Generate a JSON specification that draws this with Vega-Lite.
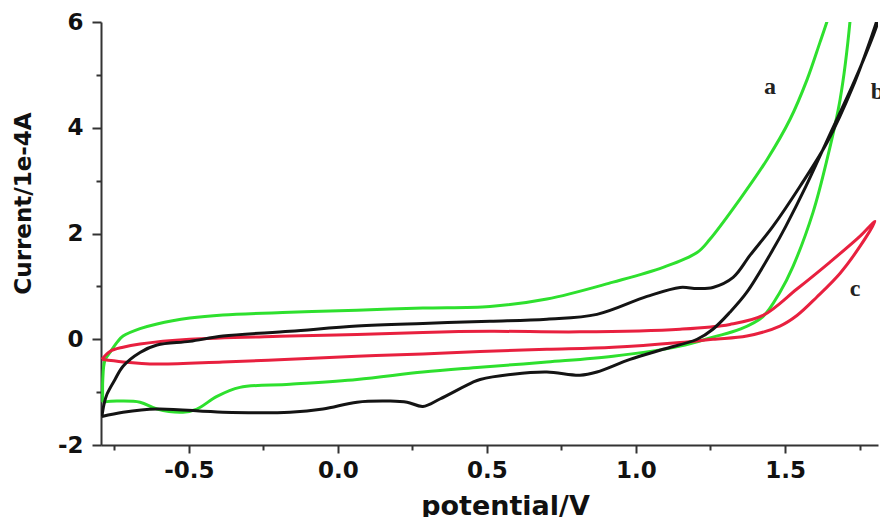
{
  "$schema": "https://vega.github.io/schema/vega-lite/v6.json",
  "width": 777,
  "height": 423,
  "autosize": {"type": "none"},
  "padding": {"left": 101, "top": 22, "right": 2, "bottom": 72},
  "background": "white",
  "config": {
    "view": {"stroke": null},
    "axis": {
      "grid": false,
      "domainColor": "#333",
      "domainWidth": 2,
      "tickColor": "#333",
      "tickWidth": 2,
      "labelFont": "DejaVu Sans",
      "labelFontWeight": "bold",
      "labelColor": "#111",
      "titleFont": "DejaVu Sans",
      "titleFontWeight": "bold",
      "titleColor": "#111"
    }
  },
  "datasets": {
    "cv": [
      {"s": "a", "i": 1, "x": -0.789, "y": -1.19},
      {"s": "a", "i": 2, "x": -0.789, "y": -0.76},
      {"s": "a", "i": 3, "x": -0.782, "y": -0.40},
      {"s": "a", "i": 4, "x": -0.765, "y": -0.25},
      {"s": "a", "i": 5, "x": -0.740, "y": -0.05},
      {"s": "a", "i": 6, "x": -0.721, "y": 0.06},
      {"s": "a", "i": 7, "x": -0.664, "y": 0.20},
      {"s": "a", "i": 8, "x": -0.607, "y": 0.29},
      {"s": "a", "i": 9, "x": -0.497, "y": 0.40},
      {"s": "a", "i": 10, "x": -0.386, "y": 0.46},
      {"s": "a", "i": 11, "x": -0.161, "y": 0.51},
      {"s": "a", "i": 12, "x": 0.064, "y": 0.55},
      {"s": "a", "i": 13, "x": 0.285, "y": 0.59},
      {"s": "a", "i": 14, "x": 0.510, "y": 0.62},
      {"s": "a", "i": 15, "x": 0.701, "y": 0.76},
      {"s": "a", "i": 16, "x": 0.923, "y": 1.08},
      {"s": "a", "i": 17, "x": 1.091, "y": 1.36},
      {"s": "a", "i": 18, "x": 1.205, "y": 1.64},
      {"s": "a", "i": 19, "x": 1.248, "y": 1.89},
      {"s": "a", "i": 20, "x": 1.349, "y": 2.65},
      {"s": "a", "i": 21, "x": 1.440, "y": 3.40},
      {"s": "a", "i": 22, "x": 1.517, "y": 4.16},
      {"s": "a", "i": 23, "x": 1.574, "y": 4.91},
      {"s": "a", "i": 24, "x": 1.617, "y": 5.61},
      {"s": "a", "i": 25, "x": 1.641, "y": 6.01},
      {"s": "a", "i": 26, "x": 1.668, "y": 6.5},
      {"s": "a", "i": 27, "x": 1.69, "y": 7.0},
      {"s": "a", "i": 28, "x": 1.725, "y": 6.6},
      {"s": "a", "i": 29, "x": 1.718, "y": 6.01},
      {"s": "a", "i": 30, "x": 1.685, "y": 4.54},
      {"s": "a", "i": 31, "x": 1.641, "y": 3.40},
      {"s": "a", "i": 32, "x": 1.594, "y": 2.40},
      {"s": "a", "i": 33, "x": 1.527, "y": 1.38},
      {"s": "a", "i": 34, "x": 1.483, "y": 0.89},
      {"s": "a", "i": 35, "x": 1.426, "y": 0.43},
      {"s": "a", "i": 36, "x": 1.349, "y": 0.19},
      {"s": "a", "i": 37, "x": 1.258, "y": 0.04},
      {"s": "a", "i": 38, "x": 1.148, "y": -0.13},
      {"s": "a", "i": 39, "x": 0.923, "y": -0.32},
      {"s": "a", "i": 40, "x": 0.701, "y": -0.43},
      {"s": "a", "i": 41, "x": 0.477, "y": -0.53},
      {"s": "a", "i": 42, "x": 0.285, "y": -0.62},
      {"s": "a", "i": 43, "x": 0.064, "y": -0.76},
      {"s": "a", "i": 44, "x": -0.161, "y": -0.85},
      {"s": "a", "i": 45, "x": -0.329, "y": -0.91},
      {"s": "a", "i": 46, "x": -0.406, "y": -1.08},
      {"s": "a", "i": 47, "x": -0.473, "y": -1.32},
      {"s": "a", "i": 48, "x": -0.520, "y": -1.38},
      {"s": "a", "i": 49, "x": -0.607, "y": -1.32},
      {"s": "a", "i": 50, "x": -0.664, "y": -1.19},
      {"s": "a", "i": 51, "x": -0.742, "y": -1.17},
      {"s": "a", "i": 52, "x": -0.789, "y": -1.19},

      {"s": "c", "i": 1, "x": -0.792, "y": -0.38},
      {"s": "c", "i": 2, "x": -0.765, "y": -0.23},
      {"s": "c", "i": 3, "x": -0.721, "y": -0.15},
      {"s": "c", "i": 4, "x": -0.664, "y": -0.09},
      {"s": "c", "i": 5, "x": -0.497, "y": 0.0},
      {"s": "c", "i": 6, "x": -0.161, "y": 0.06},
      {"s": "c", "i": 7, "x": 0.064, "y": 0.09},
      {"s": "c", "i": 8, "x": 0.285, "y": 0.13},
      {"s": "c", "i": 9, "x": 0.510, "y": 0.15},
      {"s": "c", "i": 10, "x": 0.812, "y": 0.14},
      {"s": "c", "i": 11, "x": 1.148, "y": 0.19},
      {"s": "c", "i": 12, "x": 1.315, "y": 0.28},
      {"s": "c", "i": 13, "x": 1.426, "y": 0.45},
      {"s": "c", "i": 14, "x": 1.540, "y": 0.95},
      {"s": "c", "i": 15, "x": 1.651, "y": 1.46},
      {"s": "c", "i": 16, "x": 1.752, "y": 1.95},
      {"s": "c", "i": 17, "x": 1.802, "y": 2.23},
      {"s": "c", "i": 18, "x": 1.752, "y": 1.76},
      {"s": "c", "i": 19, "x": 1.685, "y": 1.25},
      {"s": "c", "i": 20, "x": 1.607, "y": 0.80},
      {"s": "c", "i": 21, "x": 1.540, "y": 0.45},
      {"s": "c", "i": 22, "x": 1.483, "y": 0.25},
      {"s": "c", "i": 23, "x": 1.372, "y": 0.06},
      {"s": "c", "i": 24, "x": 1.258, "y": 0.0},
      {"s": "c", "i": 25, "x": 1.148, "y": -0.06},
      {"s": "c", "i": 26, "x": 0.923, "y": -0.15},
      {"s": "c", "i": 27, "x": 0.701, "y": -0.19},
      {"s": "c", "i": 28, "x": 0.477, "y": -0.23},
      {"s": "c", "i": 29, "x": 0.285, "y": -0.28},
      {"s": "c", "i": 30, "x": 0.064, "y": -0.32},
      {"s": "c", "i": 31, "x": -0.161, "y": -0.38},
      {"s": "c", "i": 32, "x": -0.386, "y": -0.43},
      {"s": "c", "i": 33, "x": -0.607, "y": -0.47},
      {"s": "c", "i": 34, "x": -0.721, "y": -0.43},
      {"s": "c", "i": 35, "x": -0.792, "y": -0.38},

      {"s": "b", "i": 1, "x": -0.792, "y": -1.46},
      {"s": "b", "i": 2, "x": -0.785, "y": -1.23},
      {"s": "b", "i": 3, "x": -0.775, "y": -1.04},
      {"s": "b", "i": 4, "x": -0.748, "y": -0.76},
      {"s": "b", "i": 5, "x": -0.721, "y": -0.51},
      {"s": "b", "i": 6, "x": -0.664, "y": -0.25},
      {"s": "b", "i": 7, "x": -0.607, "y": -0.11},
      {"s": "b", "i": 8, "x": -0.497, "y": -0.04},
      {"s": "b", "i": 9, "x": -0.386, "y": 0.06},
      {"s": "b", "i": 10, "x": -0.161, "y": 0.15},
      {"s": "b", "i": 11, "x": 0.064, "y": 0.25},
      {"s": "b", "i": 12, "x": 0.285, "y": 0.30},
      {"s": "b", "i": 13, "x": 0.510, "y": 0.34},
      {"s": "b", "i": 14, "x": 0.701, "y": 0.38},
      {"s": "b", "i": 15, "x": 0.869, "y": 0.47},
      {"s": "b", "i": 16, "x": 1.037, "y": 0.81},
      {"s": "b", "i": 17, "x": 1.148, "y": 0.98},
      {"s": "b", "i": 18, "x": 1.205, "y": 0.96},
      {"s": "b", "i": 19, "x": 1.258, "y": 0.98},
      {"s": "b", "i": 20, "x": 1.326, "y": 1.17},
      {"s": "b", "i": 21, "x": 1.383, "y": 1.59},
      {"s": "b", "i": 22, "x": 1.460, "y": 2.14},
      {"s": "b", "i": 23, "x": 1.550, "y": 2.89},
      {"s": "b", "i": 24, "x": 1.641, "y": 3.72},
      {"s": "b", "i": 25, "x": 1.728, "y": 4.78},
      {"s": "b", "i": 26, "x": 1.795, "y": 5.80},
      {"s": "b", "i": 27, "x": 1.83, "y": 6.4},
      {"s": "b", "i": 28, "x": 1.809, "y": 5.95},
      {"s": "b", "i": 29, "x": 1.735, "y": 4.91},
      {"s": "b", "i": 30, "x": 1.651, "y": 3.88},
      {"s": "b", "i": 31, "x": 1.570, "y": 2.89},
      {"s": "b", "i": 32, "x": 1.503, "y": 2.14},
      {"s": "b", "i": 33, "x": 1.460, "y": 1.70},
      {"s": "b", "i": 34, "x": 1.372, "y": 0.89},
      {"s": "b", "i": 35, "x": 1.315, "y": 0.51},
      {"s": "b", "i": 36, "x": 1.258, "y": 0.19},
      {"s": "b", "i": 37, "x": 1.205, "y": 0.0},
      {"s": "b", "i": 38, "x": 1.091, "y": -0.19},
      {"s": "b", "i": 39, "x": 0.980, "y": -0.38},
      {"s": "b", "i": 40, "x": 0.869, "y": -0.62},
      {"s": "b", "i": 41, "x": 0.812, "y": -0.68},
      {"s": "b", "i": 42, "x": 0.701, "y": -0.62},
      {"s": "b", "i": 43, "x": 0.587, "y": -0.66},
      {"s": "b", "i": 44, "x": 0.477, "y": -0.76},
      {"s": "b", "i": 45, "x": 0.453, "y": -0.81},
      {"s": "b", "i": 46, "x": 0.342, "y": -1.13},
      {"s": "b", "i": 47, "x": 0.285, "y": -1.27},
      {"s": "b", "i": 48, "x": 0.232, "y": -1.19},
      {"s": "b", "i": 49, "x": 0.174, "y": -1.17},
      {"s": "b", "i": 50, "x": 0.064, "y": -1.19},
      {"s": "b", "i": 51, "x": -0.050, "y": -1.32},
      {"s": "b", "i": 52, "x": -0.161, "y": -1.38},
      {"s": "b", "i": 53, "x": -0.386, "y": -1.38},
      {"s": "b", "i": 54, "x": -0.607, "y": -1.32},
      {"s": "b", "i": 55, "x": -0.721, "y": -1.38},
      {"s": "b", "i": 56, "x": -0.792, "y": -1.46}
    ],
    "labels": [
      {"lab": "a", "x": 1.450, "y": 4.78},
      {"lab": "b", "x": 1.81, "y": 4.67},
      {"lab": "c", "x": 1.735, "y": 0.95}
    ]
  },
  "layer": [
    {
      "data": {"name": "cv"},
      "mark": {"type": "line", "strokeWidth": 3, "clip": true, "interpolate": "catmull-rom"},
      "encoding": {
        "x": {
          "field": "x", "type": "quantitative",
          "scale": {"domain": [-0.795, 1.812], "nice": false, "zero": false},
          "axis": {
            "title": "potential/V",
            "values": [-0.75, -0.5, -0.25, 0, 0.25, 0.5, 0.75, 1, 1.25, 1.5, 1.75],
            "labelExpr": "abs(datum.value*2 - round(datum.value*2)) < 0.01 ? replace(format(datum.value, '.1f'), '\u2212', '-') : ''",
            "tickSize": {"condition": {"test": "abs(datum.value*2 - round(datum.value*2)) < 0.01", "value": 8}, "value": 5},
            "labelFontSize": 23,
            "labelPadding": 6,
            "titleFontSize": 27,
            "titleX": 404,
            "titleY": 69,
            "titleBaseline": "alphabetic"
          }
        },
        "y": {
          "field": "y", "type": "quantitative",
          "scale": {"domain": [-2, 6], "nice": false, "zero": false},
          "axis": {
            "title": "Current/1e-4A",
            "values": [-2, -1, 0, 1, 2, 3, 4, 5, 6],
            "labelExpr": "datum.value % 2 == 0 ? replace(format(datum.value, 'd'), '\u2212', '-') : ''",
            "tickSize": {"condition": {"test": "datum.value % 2 == 0", "value": 9}, "value": 5},
            "labelFontSize": 23,
            "labelPadding": 9,
            "titleFontSize": 23,
            "titleX": -78,
            "titleY": 181,
            "titleAngle": -90,
            "titleBaseline": "middle",
            "titleAlign": "center"
          }
        },
        "color": {
          "field": "s", "type": "nominal",
          "scale": {"domain": ["a", "c", "b"], "range": ["#2ee02e", "#e8203f", "#141414"]},
          "legend": null
        },
        "order": {"field": "i", "type": "quantitative"}
      }
    },
    {
      "mark": {"type": "rule", "color": "#333", "strokeWidth": 2},
      "encoding": {"y": {"datum": 6}}
    },
    {
      "data": {"name": "labels"},
      "mark": {"type": "text", "font": "Liberation Serif", "fontWeight": "bold", "fontSize": 24, "color": "#222", "align": "center", "baseline": "middle"},
      "encoding": {
        "x": {"field": "x", "type": "quantitative"},
        "y": {"field": "y", "type": "quantitative"},
        "text": {"field": "lab"}
      }
    }
  ]
}
